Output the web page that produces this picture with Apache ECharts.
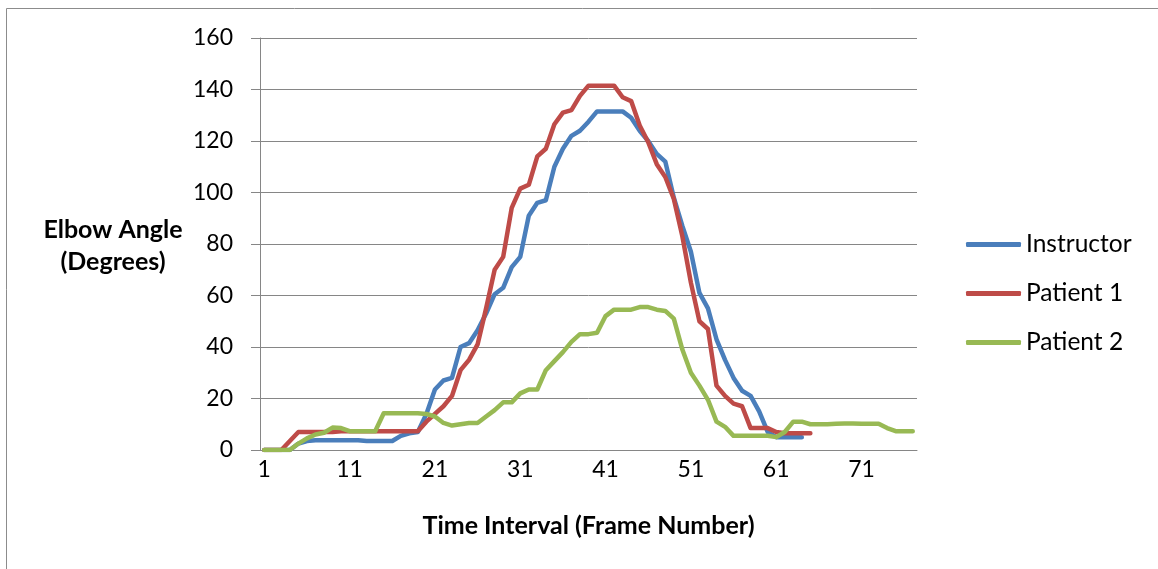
<!DOCTYPE html>
<html>
<head>
<meta charset="utf-8">
<script src="https://cdn.jsdelivr.net/npm/echarts@6/dist/echarts.min.js"></script>
<style>
  html, body { margin: 0; padding: 0; background: #fff; }
  #chart { width: 1158px; height: 569px; }
</style>
</head>
<body>
<div id="chart"></div>
<script>
// frame numbers 1..77
var frames = [];
for (var f = 1; f <= 77; f++) frames.push(String(f));

var instructor = [0, 0, 0, 0, 2.5, 3.5, 3.8, 3.8, 3.8, 3.8, 3.8, 3.8, 3.5, 3.5, 3.5, 3.5,
  5.5, 6.5, 7, 14, 23.5, 27, 28, 40, 41.5, 46.5, 53, 60.5, 63, 71, 75, 91, 96, 97, 110, 117,
  122, 124, 127.5, 131.5, 131.5, 131.5, 131.5, 129, 124, 120, 115, 112, 98, 87, 77, 61, 55,
  43, 35, 28, 23, 21, 15, 7, 5, 5, 5, 5];

var patient1 = [0, 0, 0, 3.5, 7, 7, 7, 7, 7, 7.3, 7.3, 7.3, 7.3, 7.3, 7.3, 7.3, 7.3, 7.3, 7.3,
  11, 14, 17, 21, 31, 35, 41, 55, 70, 75, 94, 101.5, 103, 114, 117, 126.5, 131, 132, 137.5,
  141.5, 141.5, 141.5, 141.5, 137, 135.5, 126, 119.5, 111, 106, 97.5, 83, 65, 50, 47, 25, 21,
  18, 17, 8.5, 8.5, 8.5, 7, 6.5, 6.5, 6.5, 6.5];

var patient2 = [0, 0, 0, 0, 2.5, 4.5, 6, 6.7, 8.7, 8.5, 7.3, 7.3, 7.3, 7.3, 14.3, 14.3, 14.3,
  14.3, 14.3, 14, 13, 10.5, 9.5, 10, 10.5, 10.5, 13, 15.5, 18.5, 18.5, 22, 23.5, 23.5, 31,
  34.5, 38, 42, 45, 45, 45.5, 52, 54.5, 54.5, 54.5, 55.5, 55.5, 54.5, 54, 51, 39, 30, 25, 19.5,
  11, 9, 5.5, 5.5, 5.5, 5.5, 5.5, 5, 7, 11, 11, 10, 10, 10, 10.2, 10.3, 10.3, 10.2, 10.2, 10.2,
  8.5, 7.3, 7.3, 7.3];

var gray = '#868686';
var font = 'Lato, "Open Sans", sans-serif';

var chart = echarts.init(document.getElementById('chart'));

function lineSeries(name, data, color) {
  return {
    name: name,
    type: 'line',
    data: data,
    showSymbol: false,
    symbol: 'none',
    lineStyle: { width: 4.5, color: color, cap: 'round', join: 'round' },
    itemStyle: { color: color }
  };
}

chart.setOption({
  animation: false,
  backgroundColor: '#fff',
  grid: { left: 260, top: 38, right: 241, bottom: 119, containLabel: false },
  graphic: [
    {
      type: 'rect',
      shape: { x: 6.5, y: 8.5, width: 1300, height: 800 },
      style: { fill: 'none', stroke: '#8c8c8c', lineWidth: 1 },
      silent: true
    },
    {
      type: 'text',
      x: 113, y: 246,
      style: {
        text: 'Elbow Angle\n(Degrees)',
        textAlign: 'center',
        textVerticalAlign: 'middle',
        font: 'bold 25px ' + font,
        lineHeight: 32,
        fill: '#000'
      }
    }
  ],
  legend: {
    orient: 'vertical',
    left: 961,
    top: 227,
    itemWidth: 55,
    itemHeight: 5,
    itemGap: 24,
    icon: 'roundRect',
    textStyle: { fontFamily: font, fontSize: 24.5, color: '#000', lineHeight: 25 },
    data: ['Instructor', 'Patient 1', 'Patient 2']
  },
  xAxis: {
    type: 'category',
    data: frames,
    boundaryGap: true,
    name: 'Time Interval (Frame Number)',
    nameLocation: 'middle',
    nameGap: 63,
    nameTextStyle: { fontFamily: font, fontSize: 25, fontWeight: 'bold', color: '#000' },
    axisLine: { lineStyle: { color: gray, width: 1 } },
    axisTick: { interval: 0, length: 6, lineStyle: { color: gray } },
    axisLabel: { interval: 9, margin: 8, fontFamily: font, fontSize: 23, color: '#000' },
    splitLine: { show: false }
  },
  yAxis: {
    type: 'value',
    min: 0,
    max: 160,
    interval: 20,
    axisLine: { show: true, lineStyle: { color: gray, width: 1 } },
    axisTick: { show: true, length: 9, lineStyle: { color: gray } },
    axisLabel: { margin: 27, fontFamily: font, fontSize: 23, color: '#000' },
    splitLine: { lineStyle: { color: gray, width: 1 } }
  },
  series: [
    lineSeries('Instructor', instructor, '#4A7EBB'),
    lineSeries('Patient 1', patient1, '#BE4B48'),
    lineSeries('Patient 2', patient2, '#98B954')
  ]
});
</script>
</body>
</html>
